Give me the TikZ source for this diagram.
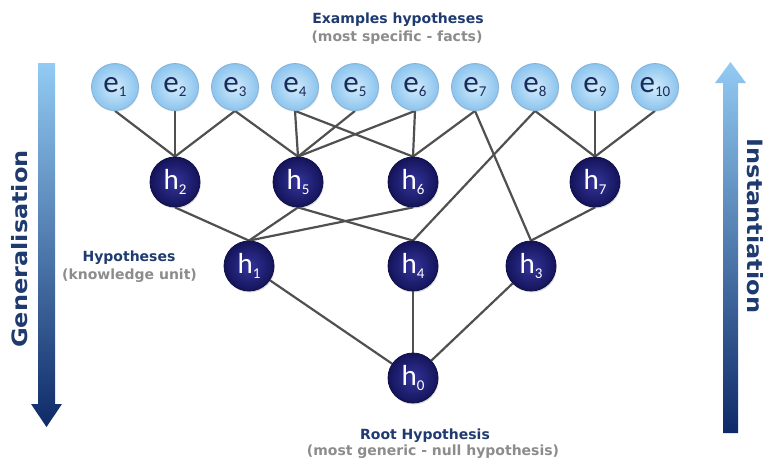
\documentclass[tikz,border=0pt]{standalone}
\usepackage{fontspec}
\setmainfont{DejaVu Sans}
\newfontfamily\nodefont{Carlito}
\usetikzlibrary{shadows}
\definecolor{navytxt}{HTML}{1F3A6E}
\definecolor{graytxt}{HTML}{8C8C8C}
\definecolor{hout}{HTML}{14145A}
\definecolor{hin}{HTML}{34349C}
\definecolor{eout}{HTML}{8CC4EE}
\definecolor{ein}{HTML}{D2EBFB}
\definecolor{eborder}{HTML}{86B2D8}
\definecolor{edgecol}{HTML}{505050}
\definecolor{arrlight}{HTML}{92CBF3}
\definecolor{arrdark}{HTML}{0E2A68}
\definecolor{etxt}{HTML}{1C2C5A}
\pgfdeclarelayer{bg}
\pgfsetlayers{bg,main}
\newcommand{\elab}[1]{{\nodefont\fontsize{31}{31}\selectfont e\raisebox{-3.5pt}{\fontsize{15}{15}\selectfont #1}}}
\newcommand{\hlab}[1]{{\nodefont\fontsize{29}{29}\selectfont h\raisebox{-4.5pt}{\fontsize{15}{15}\selectfont #1}}}
\tikzset{
  ebox/.style={circle, minimum size=47pt, inner sep=0pt, draw=eborder, line width=0.8pt,
    inner color=ein, outer color=eout, text=etxt,
    drop shadow={shadow xshift=0.8pt, shadow yshift=-1.2pt, opacity=0.2}},
  hbox/.style={circle, minimum size=50pt, inner sep=0pt, draw=hout!80!black, line width=0.8pt,
    inner color=hin, outer color=hout, text=white,
    drop shadow={shadow xshift=0.8pt, shadow yshift=-1.5pt, opacity=0.3}},
  edge/.style={draw=edgecol, line width=2.2pt},
  title/.style={font=\bfseries\fontsize{14}{14}\selectfont, text=navytxt, inner sep=0pt},
  subtitle/.style={font=\bfseries\fontsize{14}{14}\selectfont, text=graytxt, inner sep=0pt},
  side/.style={font=\bfseries\fontsize{24}{24}\selectfont, text=navytxt, inner sep=0pt},
}
\begin{document}
\begin{tikzpicture}[x=1pt,y=-1pt]
\useasboundingbox (0,0) rectangle (764,461);

% side arrows
\shade[top color=arrlight, bottom color=arrdark]
  (38,63) -- (55,63) -- (55,404) -- (62,404) -- (46.5,427) -- (31,404) -- (38,404) -- cycle;
\shade[top color=arrlight, bottom color=arrdark]
  (730.5,62) -- (746,83) -- (738,83) -- (738,433) -- (723,433) -- (723,83) -- (715,83) -- cycle;
\node[side, rotate=90] (gen) at (20,249) {\scalebox{1}[0.88]{Generalisation}};
\node[side, rotate=-90] (inst) at (755,226) {\scalebox{1}[0.88]{Instantiation}};

% texts
\node[title] (t1) at (398,20) {Examples hypotheses};
\node[subtitle] (t2) at (397,38) {(most specific - facts)};
\node[title] (t3) at (129,258) {Hypotheses};
\node[subtitle] (t4) at (129.5,276) {(knowledge unit)};
\node[title] (t5) at (425,436) {Root Hypothesis};
\node[subtitle] (t6) at (433,452) {(most generic - null hypothesis)};

% example nodes
\foreach \i in {1,...,10} {
  \node[ebox] (e\i) at ({55+60*\i},87) {\elab{\i}};
}
% hypothesis nodes
\node[hbox] (h2) at (175,182) {\hlab{2}};
\node[hbox] (h5) at (298,182) {\hlab{5}};
\node[hbox] (h6) at (413,182) {\hlab{6}};
\node[hbox] (h7) at (595,182) {\hlab{7}};
\node[hbox] (h1) at (249,266) {\hlab{1}};
\node[hbox] (h4) at (413,266) {\hlab{4}};
\node[hbox] (h3) at (531,266) {\hlab{3}};
\node[hbox] (h0) at (413,378) {\hlab{0}};

\begin{pgfonlayer}{bg}
\draw[edge] (e1.south) -- (h2.north);
\draw[edge] (e2.south) -- (h2.north);
\draw[edge] (e3.south) -- (h2.north);
\draw[edge] (e3.south) -- (h5.north);
\draw[edge] (e4.south) -- (h5.north);
\draw[edge] (e4.south) -- (h6.north);
\draw[edge] (e5.south) -- (h5.north);
\draw[edge] (e6.south) -- (h5.north);
\draw[edge] (e6.south) -- (h6.north);
\draw[edge] (e7.south) -- (h6.north);
\draw[edge] (e7.south) -- (h3.north);
\draw[edge] (e8.south) -- (h4.north);
\draw[edge] (e8.south) -- (h7.north);
\draw[edge] (e9.south) -- (h7.north);
\draw[edge] (e10.south) -- (h7.north);
\draw[edge] (h2.south) -- (h1.north);
\draw[edge] (h5.south) -- (h1.north);
\draw[edge] (h6.south) -- (h1.north);
\draw[edge] (h5.south) -- (h4.north);
\draw[edge] (h7.south) -- (h3.north);
\draw[edge] (h1) -- (h0);
\draw[edge] (h4) -- (h0);
\draw[edge] (h3) -- (h0);
\end{pgfonlayer}
\end{tikzpicture}
\end{document}
